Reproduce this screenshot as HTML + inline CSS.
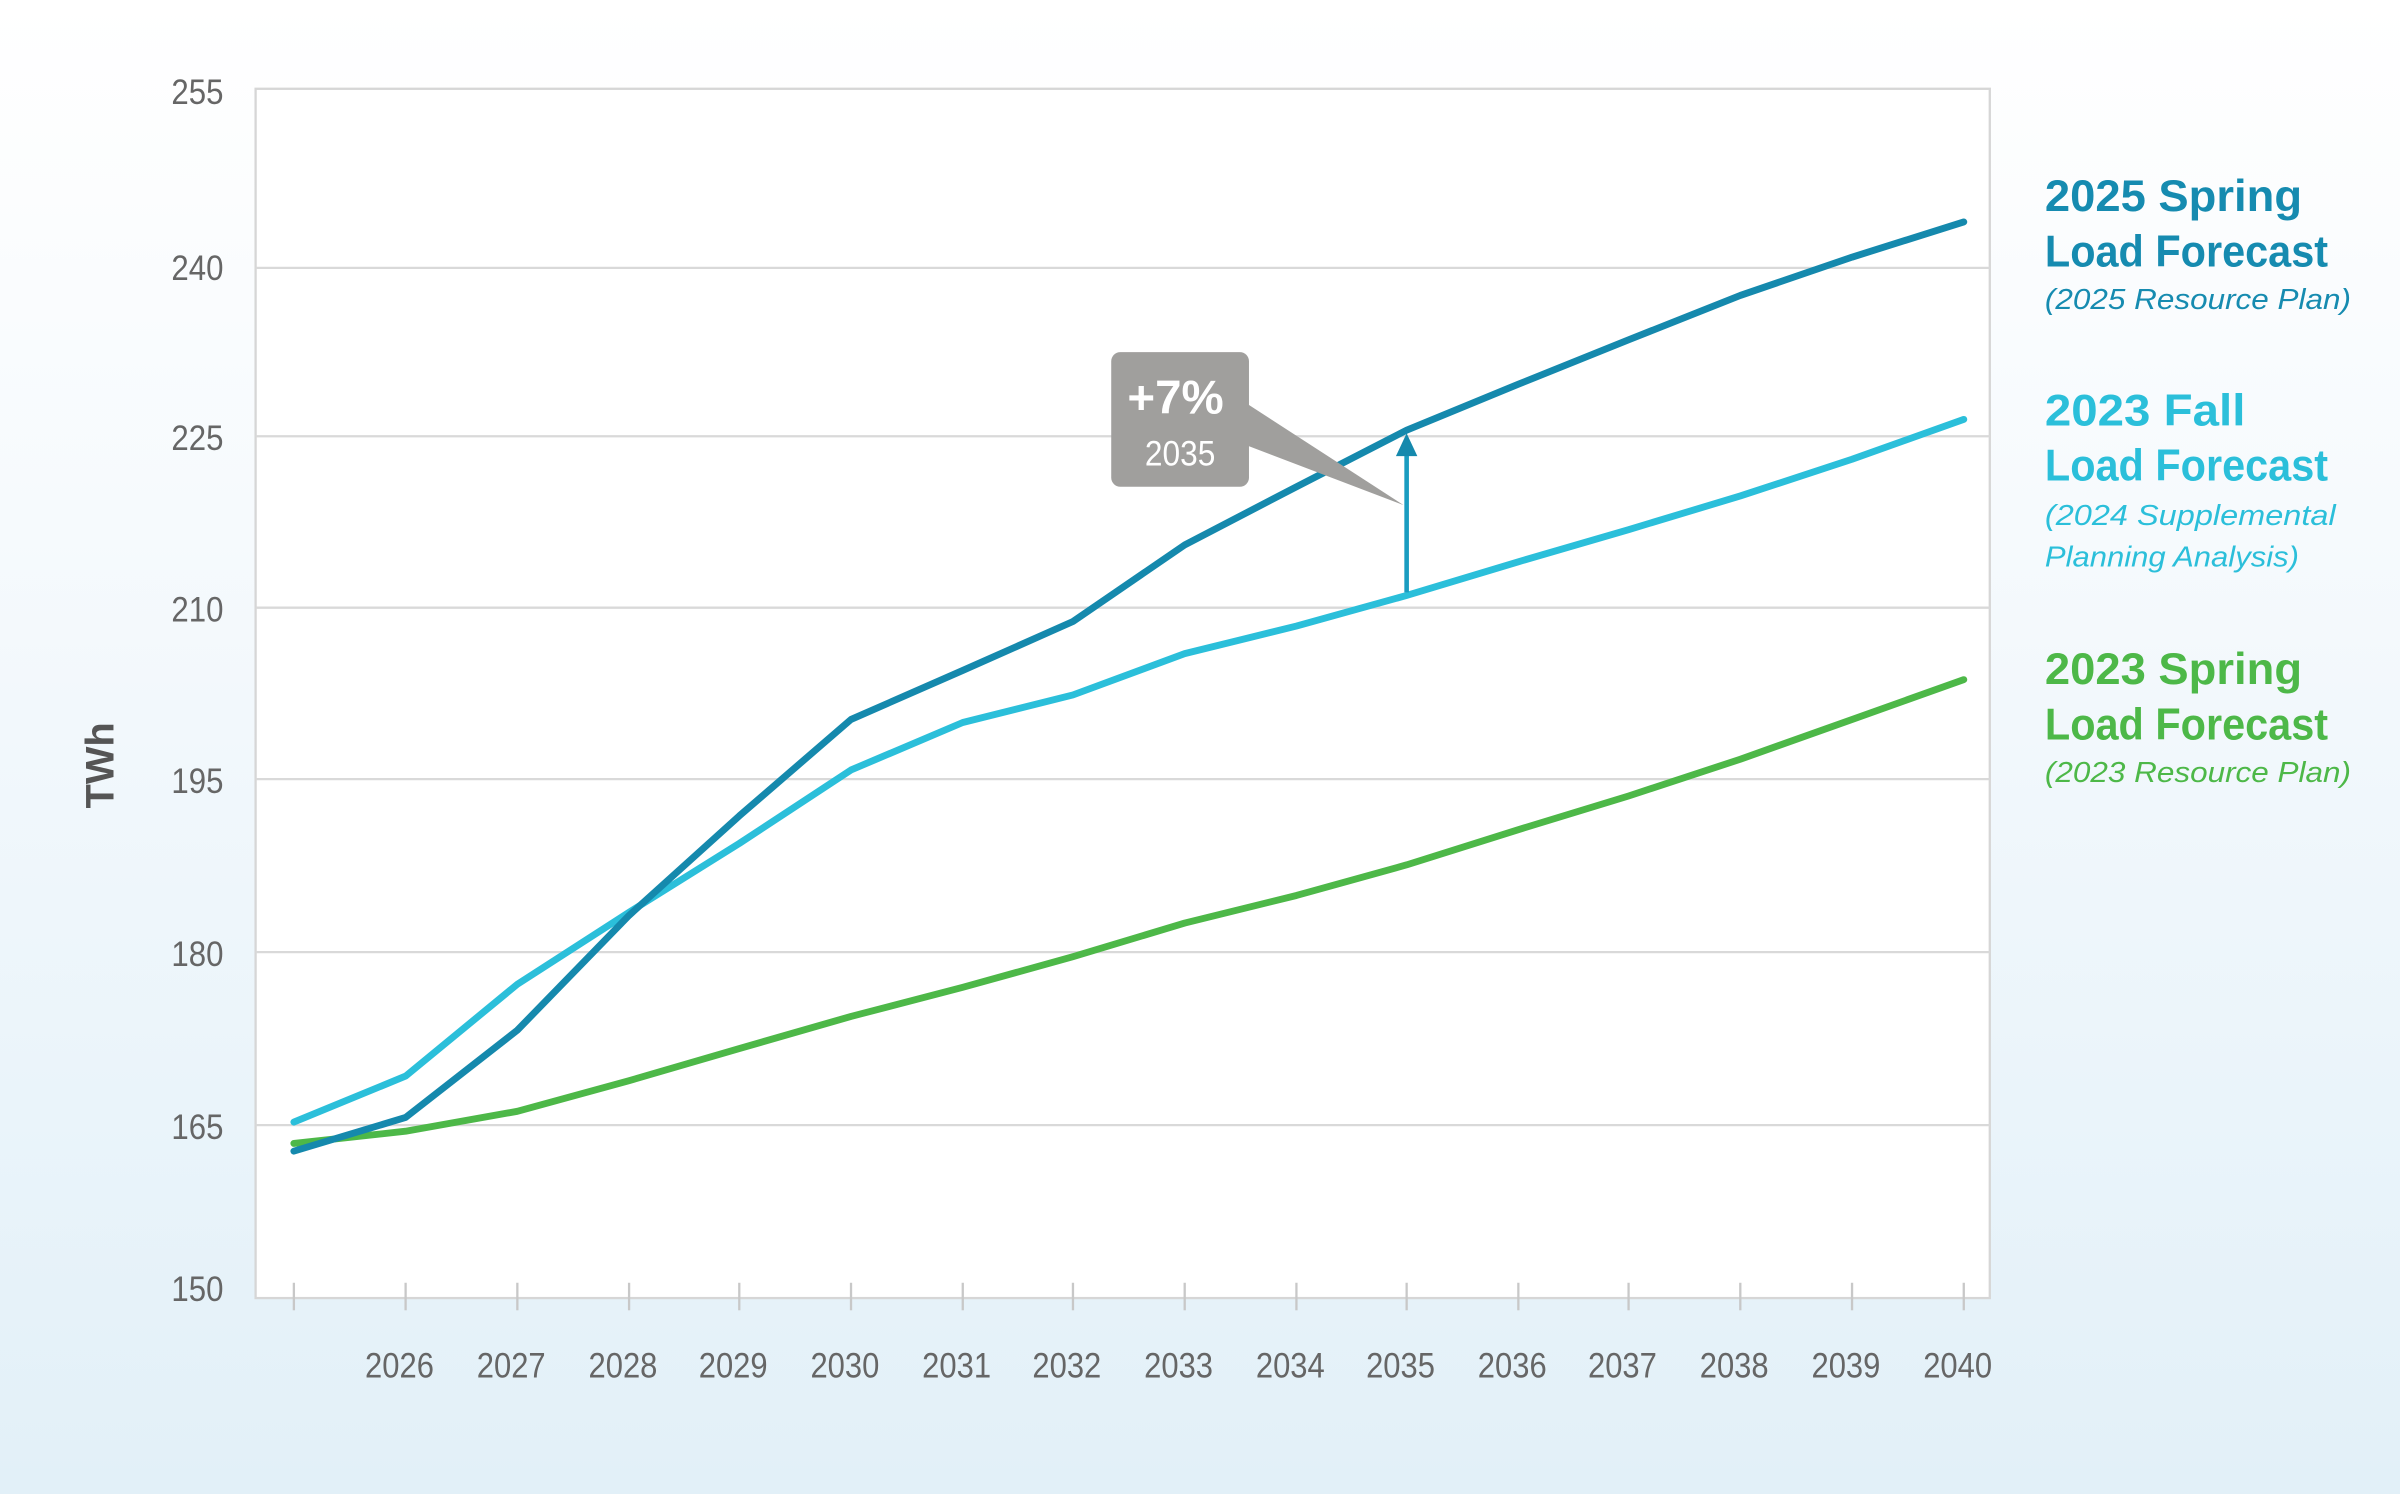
<!DOCTYPE html>
<html><head><meta charset="utf-8"><style>
html,body{margin:0;padding:0;width:2400px;height:1494px;overflow:hidden;}
svg{display:block;}
text{font-family:"Liberation Sans",sans-serif;}
</style></head><body>
<svg width="2400" height="1494" viewBox="0 0 1568 976" preserveAspectRatio="none">
<defs><linearGradient id="bg" x1="0" y1="0" x2="0" y2="1">
<stop offset="0" stop-color="#ffffff"/><stop offset="0.35" stop-color="#f6fafd"/><stop offset="1" stop-color="#e2f0f8"/></linearGradient></defs>
<rect width="1568" height="976" fill="url(#bg)"/>
<rect x="167" y="58" width="1133" height="790" fill="#fff" stroke="#d6d6d6" stroke-width="1.5"/>
<g stroke="#d9d9d9" stroke-width="1.5">
<line x1="167" y1="175" x2="1300" y2="175"/><line x1="167" y1="285" x2="1300" y2="285"/>
<line x1="167" y1="397" x2="1300" y2="397"/><line x1="167" y1="509" x2="1300" y2="509"/>
<line x1="167" y1="622" x2="1300" y2="622"/><line x1="167" y1="735" x2="1300" y2="735"/>
</g>
<g stroke="#c8c8c8" stroke-width="1.5">
<line x1="192" y1="838" x2="192" y2="856"/><line x1="265" y1="838" x2="265" y2="856"/><line x1="338" y1="838" x2="338" y2="856"/><line x1="411" y1="838" x2="411" y2="856"/><line x1="483" y1="838" x2="483" y2="856"/><line x1="556" y1="838" x2="556" y2="856"/><line x1="629" y1="838" x2="629" y2="856"/><line x1="701" y1="838" x2="701" y2="856"/><line x1="774" y1="838" x2="774" y2="856"/><line x1="847" y1="838" x2="847" y2="856"/><line x1="919" y1="838" x2="919" y2="856"/><line x1="992" y1="838" x2="992" y2="856"/><line x1="1064" y1="838" x2="1064" y2="856"/><line x1="1137" y1="838" x2="1137" y2="856"/><line x1="1210" y1="838" x2="1210" y2="856"/><line x1="1283" y1="838" x2="1283" y2="856"/>
</g>
<g font-size="23" fill="#666" text-anchor="end">
<text x="146" y="68" textLength="34" lengthAdjust="spacingAndGlyphs">255</text>
<text x="146" y="183" textLength="34" lengthAdjust="spacingAndGlyphs">240</text>
<text x="146" y="294" textLength="34" lengthAdjust="spacingAndGlyphs">225</text>
<text x="146" y="406" textLength="34" lengthAdjust="spacingAndGlyphs">210</text>
<text x="146" y="518" textLength="34" lengthAdjust="spacingAndGlyphs">195</text>
<text x="146" y="631" textLength="34" lengthAdjust="spacingAndGlyphs">180</text>
<text x="146" y="744" textLength="34" lengthAdjust="spacingAndGlyphs">165</text>
<text x="146" y="850" textLength="34" lengthAdjust="spacingAndGlyphs">150</text>
</g>
<g font-size="23" fill="#666" text-anchor="middle">
<text x="261" y="900" textLength="45" lengthAdjust="spacingAndGlyphs">2026</text>
<text x="334" y="900" textLength="45" lengthAdjust="spacingAndGlyphs">2027</text>
<text x="407" y="900" textLength="45" lengthAdjust="spacingAndGlyphs">2028</text>
<text x="479" y="900" textLength="45" lengthAdjust="spacingAndGlyphs">2029</text>
<text x="552" y="900" textLength="45" lengthAdjust="spacingAndGlyphs">2030</text>
<text x="625" y="900" textLength="45" lengthAdjust="spacingAndGlyphs">2031</text>
<text x="697" y="900" textLength="45" lengthAdjust="spacingAndGlyphs">2032</text>
<text x="770" y="900" textLength="45" lengthAdjust="spacingAndGlyphs">2033</text>
<text x="843" y="900" textLength="45" lengthAdjust="spacingAndGlyphs">2034</text>
<text x="915" y="900" textLength="45" lengthAdjust="spacingAndGlyphs">2035</text>
<text x="988" y="900" textLength="45" lengthAdjust="spacingAndGlyphs">2036</text>
<text x="1060" y="900" textLength="45" lengthAdjust="spacingAndGlyphs">2037</text>
<text x="1133" y="900" textLength="45" lengthAdjust="spacingAndGlyphs">2038</text>
<text x="1206" y="900" textLength="45" lengthAdjust="spacingAndGlyphs">2039</text>
<text x="1279" y="900" textLength="45" lengthAdjust="spacingAndGlyphs">2040</text>
</g>
<text transform="translate(74,500) rotate(-90)" font-size="26" font-weight="bold" fill="#555" text-anchor="middle">TWh</text>
<g fill="none" stroke-width="4.5" stroke-linejoin="round" stroke-linecap="round">
<polyline stroke="#4db848" points="192,747 265,739 338,726 411,706 483,685 556,664 629,645 701,625 774,603 847,585 919,565 992,542 1064,520 1137,496 1210,470 1283,444"/>
<polyline stroke="#2bbfda" points="192,733 265,703 338,643 411,596 483,551 556,503 629,472 701,454 774,427 847,409 919,389 992,367 1064,346 1137,324 1210,300 1283,274"/>
<polyline stroke="#1589ad" points="192,752 265,730 338,673 411,598 483,533 556,470 629,438 701,406 774,356 847,318 919,281 992,251 1064,222 1137,193 1210,168 1283,145"/>
</g>
<line x1="919" y1="387" x2="919" y2="292" stroke="#1a9cc0" stroke-width="3"/>
<polygon points="912,298 926,298 919,283" fill="#1589ad"/>
<polygon points="812,262 812,290 917,330" fill="#a09f9d"/>
<rect x="726" y="230" width="90" height="88" rx="6" fill="#a09f9d"/>
<text x="768" y="270" font-size="31" font-weight="bold" fill="#fff" text-anchor="middle">+7%</text>
<text x="771" y="304" font-size="23" fill="#fff" text-anchor="middle" textLength="46" lengthAdjust="spacingAndGlyphs">2035</text>
<g font-size="29" font-weight="bold">
<text x="1336" y="138" fill="#168bb0" textLength="168" lengthAdjust="spacingAndGlyphs">2025 Spring</text>
<text x="1336" y="174" fill="#168bb0" textLength="185" lengthAdjust="spacingAndGlyphs">Load Forecast</text>
<text x="1336" y="278" fill="#2bbfda" textLength="131" lengthAdjust="spacingAndGlyphs">2023 Fall</text>
<text x="1336" y="314" fill="#2bbfda" textLength="185" lengthAdjust="spacingAndGlyphs">Load Forecast</text>
<text x="1336" y="447" fill="#4db848" textLength="168" lengthAdjust="spacingAndGlyphs">2023 Spring</text>
<text x="1336" y="483" fill="#4db848" textLength="185" lengthAdjust="spacingAndGlyphs">Load Forecast</text>
</g>
<g font-size="19" font-style="italic">
<text x="1336" y="202" fill="#168bb0" textLength="200" lengthAdjust="spacingAndGlyphs">(2025 Resource Plan)</text>
<text x="1336" y="343" fill="#2bbfda" textLength="190" lengthAdjust="spacingAndGlyphs">(2024 Supplemental</text>
<text x="1336" y="370" fill="#2bbfda" textLength="166" lengthAdjust="spacingAndGlyphs">Planning Analysis)</text>
<text x="1336" y="511" fill="#4db848" textLength="200" lengthAdjust="spacingAndGlyphs">(2023 Resource Plan)</text>
</g>
</svg>
</body></html>
